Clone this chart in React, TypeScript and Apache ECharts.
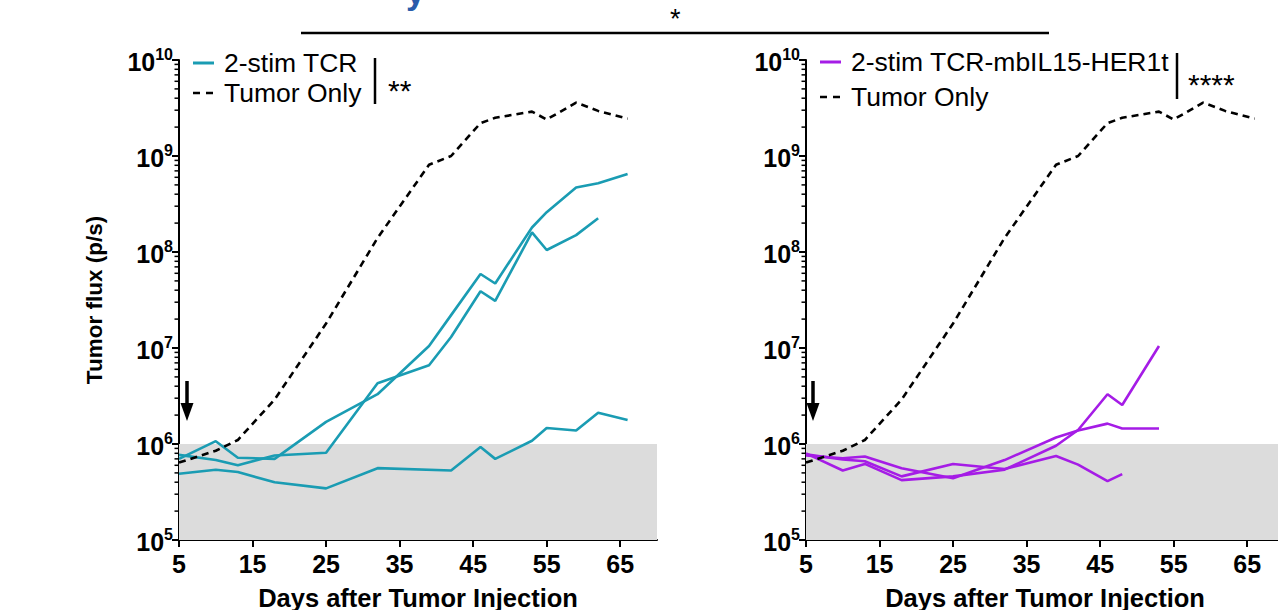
import React, { useEffect, useRef } from "react";
import * as echarts from "echarts";

// ---- Data ----
const tumorDays = [5, 10, 13, 18, 25, 32, 39, 42, 46, 48, 53, 55, 59, 62, 66];
const tumorOnly = [6.4e5, 8.5e5, 1.1e6, 2.9e6, 1.8e7, 1.4e8, 8.1e8, 1.0e9, 2.2e9, 2.5e9, 2.9e9, 2.4e9, 3.6e9, 2.95e9, 2.45e9];

const tcrDaysA = [5, 10, 13, 18, 25, 32, 42, 46, 48, 53, 55, 59, 62, 66];
const tcrA = [4.9e5, 5.4e5, 5.1e5, 4.0e5, 3.45e5, 5.6e5, 5.3e5, 9.3e5, 7.0e5, 1.08e6, 1.47e6, 1.38e6, 2.12e6, 1.78e6];
const tcrDaysB = [5, 10, 13, 18, 25, 32, 39, 42, 46, 48, 53, 55, 59, 62, 66];
const tcrB = [7.0e5, 1.07e6, 7.2e5, 7.0e5, 1.7e6, 3.3e6, 1.05e7, 2.2e7, 5.9e7, 4.7e7, 1.8e8, 2.6e8, 4.7e8, 5.2e8, 6.5e8];
const tcrDaysC = [5, 10, 13, 18, 25, 32, 39, 42, 46, 48, 53, 55, 59, 62];
const tcrC = [7.7e5, 6.8e5, 6.0e5, 7.6e5, 8.1e5, 4.3e6, 6.6e6, 1.3e7, 3.9e7, 3.1e7, 1.6e8, 1.05e8, 1.5e8, 2.25e8];

const mbDaysA = [5, 10, 13, 18, 25, 32, 39, 42, 46, 48];
const mbA = [7.8e5, 6.9e5, 6.6e5, 4.6e5, 6.2e5, 5.5e5, 7.5e5, 6.1e5, 4.1e5, 4.85e5];
const mbDaysB = [5, 10, 13, 18, 25, 32, 39, 42, 46, 48, 53];
const mbB = [7.6e5, 7.1e5, 7.4e5, 5.6e5, 4.4e5, 6.8e5, 1.17e6, 1.38e6, 1.63e6, 1.45e6, 1.45e6];
const mbDaysC = [5, 10, 13, 18, 25, 32, 39, 42, 46, 48, 53];
const mbC = [8.0e5, 5.3e5, 6.2e5, 4.2e5, 4.6e5, 5.4e5, 9.6e5, 1.4e6, 3.3e6, 2.55e6, 1.05e7];

const xTicks = [5, 15, 25, 35, 45, 55, 65];
const minorMultipliers = [2, 3, 4, 5, 6, 7, 8, 9];
const minorDecades = [1e5, 1e6, 1e7, 1e8, 1e9];
const bandRange = [1e5, 1e6];

const TEAL = "#1a9cb3";
const PURPLE = "#a51ce6";
const FONT = "'Liberation Sans', Arial, Helvetica, sans-serif";

const pairs = (xs: number[], ys: number[]) => xs.map((x, i) => [x, ys[i]]);

export default function App() {
  const ref = useRef<HTMLDivElement>(null);
  useEffect(() => {
    if (!ref.current) return;
    const chart = echarts.init(ref.current, undefined, { renderer: "svg" });
    const minorVals: number[][] = [];
    minorDecades.forEach((d) => minorMultipliers.forEach((m) => minorVals.push([5, m * d])));

    const grids = [
      { left: 179, top: 60, width: 478, height: 480, outerBoundsMode: "none", containLabel: false },
      { left: 806, top: 60, width: 478, height: 480, outerBoundsMode: "none", containLabel: false },
    ];
    const xAxes = grids.map((_, i) => ({
      type: "value",
      gridIndex: i,
      min: 5,
      max: 70,
      axisLine: { show: true, onZero: false, lineStyle: { color: "#000", width: 2 } },
      axisTick: { show: true, length: 7, customValues: xTicks, lineStyle: { color: "#000", width: 2 } },
      axisLabel: { customValues: xTicks, fontSize: 25, fontWeight: "bold", color: "#000", fontFamily: FONT, margin: 11 },
      splitLine: { show: false },
      name: "Days after Tumor Injection",
      nameLocation: "middle",
      nameGap: 45,
      nameTextStyle: { fontSize: 25.5, fontWeight: "bold", color: "#000", fontFamily: FONT },
    }));
    const yAxes = grids.map((_, i) => ({
      type: "log",
      logBase: 10,
      gridIndex: i,
      min: 1e5,
      max: 1e10,
      axisLine: { show: true, onZero: false, lineStyle: { color: "#000", width: 2 } },
      axisTick: { show: true, length: 7, lineStyle: { color: "#000", width: 2 } },
      minorTick: { show: false },
      splitLine: { show: false },
      axisLabel: {
        margin: 6,
        formatter: (v: number) => `{b|10}{s|${Math.round(Math.log10(v))}}`,
        rich: {
          b: { fontSize: 25, fontWeight: "bold", color: "#000", fontFamily: FONT, verticalAlign: "bottom", lineHeight: 28 },
          s: { fontSize: 16, fontWeight: "bold", color: "#000", fontFamily: FONT, verticalAlign: "top", lineHeight: 16 },
        },
      },
      name: i === 0 ? "Tumor flux (p/s)" : "",
      nameLocation: "middle",
      nameGap: 73,
      nameTextStyle: { fontSize: 22.5, fontWeight: "bold", color: "#000", fontFamily: FONT },
    }));

    const lineSeries = (data: number[][], idx: number, color: string, dashed = false) => ({
      type: "line",
      xAxisIndex: idx,
      yAxisIndex: idx,
      data,
      showSymbol: false,
      symbol: "none",
      z: 3,
      lineStyle: { color, width: 2.6, type: dashed ? [7, 5] : "solid" },
    });

    const series: any[] = [];
    [0, 1].forEach((i) => {
      series.push({
        type: "line",
        xAxisIndex: i,
        yAxisIndex: i,
        data: [],
        z: 1,
        markArea: {
          silent: true,
          itemStyle: { color: "#dcdcdc" },
          data: [[{ xAxis: 5, yAxis: bandRange[0] }, { xAxis: 70, yAxis: bandRange[1] }]],
        },
      });
      series.push({
        type: "custom",
        xAxisIndex: i,
        yAxisIndex: i,
        clip: false,
        silent: true,
        z: 4,
        data: minorVals,
        renderItem: (_p: any, api: any) => {
          const p = api.coord([api.value(0), api.value(1)]);
          return {
            type: "line",
            shape: { x1: p[0] - 4.5, y1: p[1], x2: p[0], y2: p[1] },
            style: { stroke: "#000", lineWidth: 1.5 },
          };
        },
      });
    });
    series.push(lineSeries(pairs(tcrDaysA, tcrA), 0, TEAL));
    series.push(lineSeries(pairs(tcrDaysB, tcrB), 0, TEAL));
    series.push(lineSeries(pairs(tcrDaysC, tcrC), 0, TEAL));
    series.push(lineSeries(pairs(tumorDays, tumorOnly), 0, "#000", true));
    series.push(lineSeries(pairs(mbDaysA, mbA), 1, PURPLE));
    series.push(lineSeries(pairs(mbDaysB, mbB), 1, PURPLE));
    series.push(lineSeries(pairs(mbDaysC, mbC), 1, PURPLE));
    series.push(lineSeries(pairs(tumorDays, tumorOnly), 1, "#000", true));

    const txt = (x: number, y: number, text: string, size: number, extra: any = {}) => ({
      type: "text",
      x,
      y,
      style: { text, fontSize: size, fontFamily: FONT, fill: "#000", verticalAlign: "middle", align: "left", ...extra },
      z: 10,
    });
    const ln = (x1: number, y1: number, x2: number, y2: number, w: number, color = "#000", dash: any = null) => ({
      type: "line",
      shape: { x1, y1, x2, y2 },
      style: { stroke: color, lineWidth: w, lineDash: dash },
      z: 10,
    });
    const arrow = (x: number) => [
      ln(x, 381, x, 407, 3.5),
      { type: "polygon", shape: { points: [[x - 6.5, 403], [x + 6.5, 403], [x, 421]] }, style: { fill: "#000" }, z: 10 },
    ];

    const graphic: any[] = [
      txt(406, 9, "y", 34, { fill: "#2a5cab", fontWeight: "bold", verticalAlign: "bottom" }),
      ln(301, 33, 1049, 33, 2.5),
      txt(670, 19, "*", 27),
      // left legend
      ln(193, 63, 214, 63, 3, TEAL),
      txt(224, 63, "2-stim TCR", 26.5),
      ln(193, 93, 214, 93, 2.6, "#000", [7, 6]),
      txt(224, 93, "Tumor Only", 26.5),
      ln(375, 58, 375, 104, 2.5),
      txt(388, 90, "**", 30, { letterSpacing: 2 }),
      // right legend
      ln(820, 62, 841, 62, 3, PURPLE),
      txt(851, 62, "2-stim TCR-mbIL15-HER1t", 26.5),
      ln(820, 97, 841, 97, 2.6, "#000", [7, 6]),
      txt(851, 97, "Tumor Only", 26.5),
      ln(1177, 53, 1177, 99, 2.5),
      txt(1188, 84, "****", 30, { letterSpacing: 4 }),
      ...arrow(187),
      ...arrow(813),
    ];

    chart.setOption({
      animation: false,
      grid: grids,
      xAxis: xAxes,
      yAxis: yAxes,
      series,
      graphic,
    });
    return () => chart.dispose();
  }, []);
  return <div ref={ref} style={{ position: "absolute", left: 0, top: 0, width: 1278, height: 610, background: "#fff" }} />;
}
